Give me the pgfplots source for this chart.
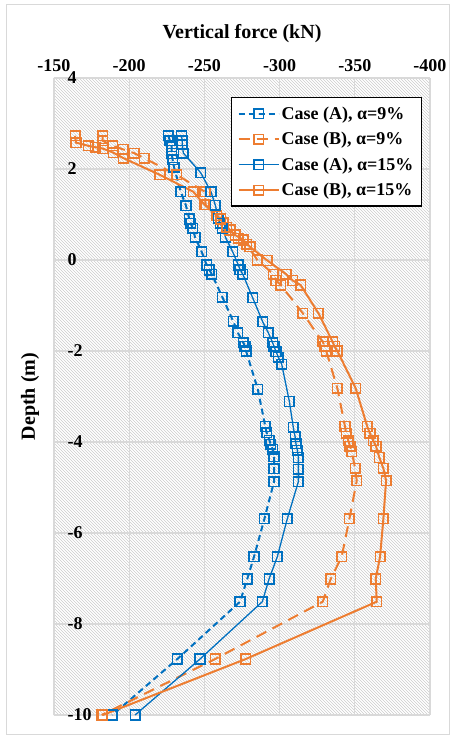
\documentclass[border=0pt]{standalone}
\usepackage{fontspec}
\setmainfont{Liberation Serif}
\usepackage{pgfplots}
\pgfplotsset{compat=1.18}
\usetikzlibrary{patterns}
\definecolor{cblue}{RGB}{0,112,192}
\definecolor{corange}{RGB}{237,125,49}
\definecolor{gridgray}{RGB}{217,217,217}
\begin{document}
\begin{tikzpicture}
\path (-54pt,-25pt) rectangle (401pt,715pt);
\draw[gridgray, line width=1pt] (-47pt,-19pt) rectangle (395pt,710pt);
\begin{axis}[
  at={(0pt,0pt)}, anchor=south west,
  scale only axis, width=376pt, height=637pt,
  xmin=-400, xmax=-150, ymin=-10, ymax=4,
  x dir=reverse,
  xtick={-400,-350,...,-150}, ytick={-10,-8,...,4},
  axis line style={draw=none}, tick style={draw=none},
  grid=major, grid style={gridgray, line width=1.2pt},
  axis background/.style={pattern=north west lines, pattern color=black!20},
  xticklabel pos=upper,
  /pgf/number format/assume math mode=true,
  xticklabel style={font=\bfseries\fontsize{18}{20}\selectfont, yshift=3pt},
  yticklabel style={font=\bfseries\fontsize{18}{20}\selectfont, anchor=west, xshift=10pt},
  xlabel={Vertical force (kN)},
  xlabel style={font=\bfseries\fontsize{20}{22}\selectfont, at={(axis description cs:0.5,1)}, anchor=south, yshift=32pt},
  ylabel={Depth (m)},
  ylabel style={font=\bfseries\fontsize{20}{22}\selectfont, at={(axis description cs:-0.03,0.5)}, anchor=south},
  clip=false,
  legend style={at={(1,1)}, anchor=north east, xshift=-8pt, yshift=-19pt, draw=black, line width=1.2pt, fill=white, font=\bfseries\fontsize{18}{20}\selectfont, row sep=7.5pt, inner xsep=6pt, inner ysep=7pt},
  legend cell align=left,
  legend image code/.code={\draw[mark repeat=2,mark phase=2] plot coordinates {(0pt,0pt)(20pt,0pt)(40pt,0pt)};},
  mark size=4.8pt,
]
% Case (A), 9%
\addplot[color=cblue, line width=2pt, dash pattern=on 6pt off 4pt, mark=square, mark options={solid, fill=white, line width=1.5pt}] coordinates {
(-226.0,2.73) (-227.1,2.62) (-228.2,2.49) (-228.2,2.34) (-228.9,2.20) (-229.8,2.04)
(-234.3,1.50) (-237.8,1.19) (-240.0,0.90) (-240.9,0.81) (-242.2,0.70) (-243.8,0.50)
(-248.2,0.18) (-251.5,-0.11) (-253.3,-0.22) (-254.9,-0.31) (-262.0,-0.82) (-269.2,-1.35)
(-272.3,-1.60) (-275.9,-1.82) (-277.0,-1.90) (-277.7,-2.00) (-285.5,-2.84)
(-290.5,-3.66) (-291.4,-3.80) (-293.2,-3.96) (-294.1,-4.05) (-295.4,-4.16) (-296.3,-4.32)
(-296.3,-4.59) (-296.3,-4.87) (-289.9,-5.69) (-283.0,-6.52) (-278.5,-7.01) (-273.7,-7.51)
(-232.0,-8.77) (-188.8,-10.0)
};
\addlegendentry{Case (A), α=9\%}
% Case (B), 9%
\addplot[color=corange, line width=2pt, dash pattern=on 11pt off 7pt, mark=square, mark options={solid, fill=white, line width=1.5pt}] coordinates {
(-182.4,2.73) (-182.4,2.62) (-189.0,2.51) (-196.1,2.43) (-203.2,2.35) (-209.9,2.24)
(-231.6,1.87) (-250.4,1.50) (-250.8,1.21) (-258.2,0.97) (-262.6,0.82) (-267.0,0.66)
(-272.6,0.48) (-278.1,0.35) (-285.2,0.0) (-295.8,-0.31) (-297.6,-0.45) (-300.8,-0.55)
(-315.4,-1.17) (-328.7,-1.80) (-330.0,-1.90) (-331.0,-2.00) (-338.4,-2.82)
(-343.5,-3.66) (-344.2,-3.81) (-345.7,-3.97) (-346.8,-4.09) (-348.0,-4.21) (-350.2,-4.58)
(-351.3,-4.85) (-346.4,-5.69) (-341.3,-6.52) (-334.0,-7.01) (-328.7,-7.51)
(-257.1,-8.77) (-181.7,-10.0)
};
\addlegendentry{Case (B), α=9\%}
% Case (A), 15%
\addplot[color=cblue, line width=1.3pt, mark=square, mark options={solid, fill=white, line width=1.5pt}] coordinates {
(-234.8,2.73) (-235.3,2.62) (-235.3,2.53) (-236.0,2.35) (-247.5,1.92) (-254.4,1.50)
(-257.3,1.20) (-259.3,0.92) (-260.5,0.81) (-262.0,0.70) (-264.0,0.50) (-268.8,0.18)
(-272.6,-0.11) (-273.7,-0.21) (-275.5,-0.31) (-282.1,-0.83) (-288.8,-1.36) (-292.5,-1.60)
(-295.4,-1.82) (-296.3,-1.90) (-297.6,-2.01) (-299.2,-2.14) (-301.4,-2.29) (-306.5,-3.11)
(-309.1,-3.68) (-310.3,-3.88) (-310.9,-4.04) (-311.8,-4.18) (-312.5,-4.34) (-312.5,-4.60)
(-312.5,-4.87) (-305.1,-5.69) (-298.5,-6.52) (-293.0,-7.01) (-288.5,-7.51)
(-247.1,-8.77) (-203.9,-10.0)
};
\addlegendentry{Case (A), α=15\%}
% Case (B), 15%
\addplot[color=corange, line width=2pt, mark=square, mark options={solid, fill=white, line width=1.5pt}] coordinates {
(-164.0,2.73) (-164.6,2.58) (-172.8,2.51) (-177.3,2.48) (-182.4,2.45) (-189.4,2.36)
(-196.1,2.24) (-220.5,1.87) (-242.6,1.50) (-250.0,1.22) (-260.8,0.90) (-264.8,0.72)
(-270.4,0.55) (-275.9,0.44) (-280.3,0.29) (-291.8,-0.01) (-304.3,-0.31) (-308.7,-0.45)
(-314.0,-0.55) (-325.8,-1.17) (-335.3,-1.80) (-336.5,-1.90) (-338.4,-2.00) (-350.6,-2.82)
(-358.3,-3.66) (-360.1,-3.81) (-362.3,-3.97) (-364.1,-4.09) (-366.3,-4.34) (-369.0,-4.58)
(-370.8,-4.85) (-369.0,-5.69) (-366.8,-6.52) (-363.9,-7.01) (-364.6,-7.51)
(-277.5,-8.77) (-182.5,-10.0)
};
\addlegendentry{Case (B), α=15\%}
\end{axis}
\end{tikzpicture}
\end{document}
